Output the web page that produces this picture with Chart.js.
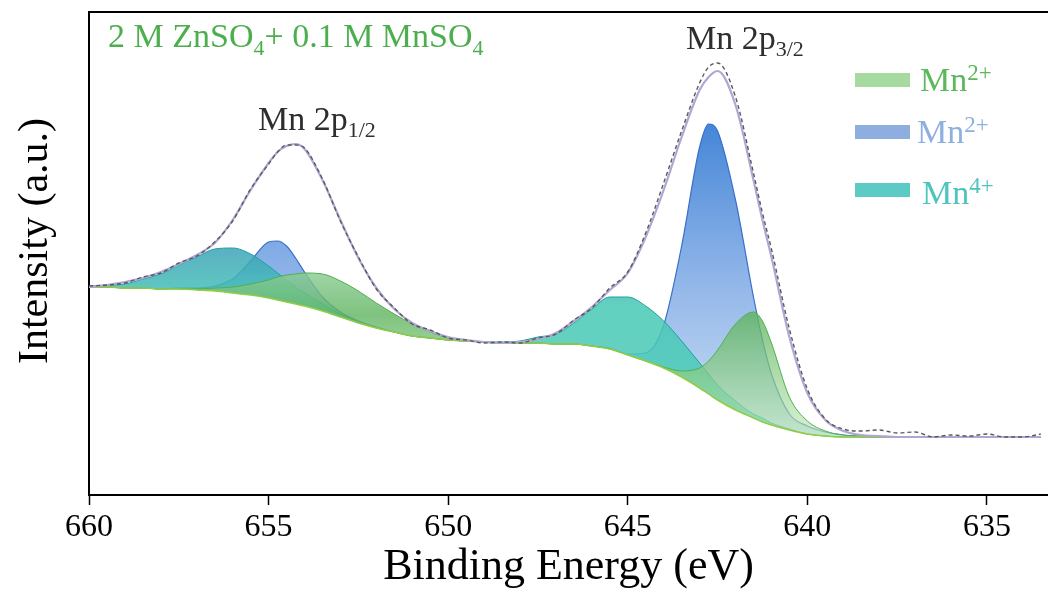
<!DOCTYPE html>
<html>
<head>
<meta charset="utf-8">
<script src="https://cdn.jsdelivr.net/npm/chart.js@4.4.1/dist/chart.umd.min.js"></script>
<style>
  body { margin: 0; background: #fff; }
  #wrap { width: 1048px; height: 589px; }
</style>
</head>
<body>
<div id="wrap"><canvas id="xpsChart"></canvas></div>
<script>
const SERIF = '"Liberation Serif", "Times New Roman", serif';

// binding energy grid (eV)
const energy = [660, 659.5, 659, 658.5, 658, 657.5, 657, 656.5, 656, 655.5, 655, 654.75, 654.5, 654.25, 654,
  653.5, 653, 652.5, 652, 651.5, 651, 650.5, 650, 649.5, 649, 648.5, 648, 647.5, 647, 646.5, 646, 645.5,
  645, 644.5, 644, 643.5, 643, 642.75, 642.5, 642, 641.5, 641.25, 641, 640.5, 640, 639.5, 639, 638.5,
  638, 637.5, 637, 636.5, 636, 635.5, 635, 634.5, 634, 633.5];

// shirley background
const background = [208, 208, 207, 207, 206, 206, 205, 204, 202, 200, 197, 195, 193, 191, 189,
  184, 178, 172, 167, 163, 159, 157, 155, 154, 153, 152, 152, 152, 151, 151, 149, 146,
  140, 134, 127, 118, 107, 101, 95, 85, 77, 73, 70, 65, 61, 59, 58, 58,
  58, 58, 58, 58, 58, 58, 58, 58, 58, 58];

// fitted components (top edge)
const mn2Blue = [208, 208, 207, 207, 206, 207, 207, 209, 216, 234, 253, 254, 249, 237, 223,
  198, 183, 174, 168, 163, 159, 157, 155, 154, 153, 152, 152, 152, 151, 151, 149, 147,
  141, 142, 170, 249, 348, 371, 364, 295, 198, 155, 121, 81, 69, 63, 60, 59,
  58, 58, 58, 58, 58, 58, 58, 58, 58, 58];

const mn4Teal = [209, 210, 211, 216, 221, 230, 238, 246, 247, 241, 229, 222, 215, 208, 202,
  191, 181, 173, 167, 163, 159, 157, 155, 154, 153, 153, 154, 158, 161, 172, 186, 198,
  198, 189, 174, 154, 132, 121, 110, 94, 81, 77, 72, 66, 61, 59, 58, 58,
  58, 58, 58, 58, 58, 58, 58, 58, 58, 58];

const mn2Green = [208, 208, 207, 207, 206, 206, 206, 207, 208, 211, 215, 218, 220, 221, 222,
  221, 214, 204, 192, 181, 171, 163, 157, 155, 153, 152, 152, 152, 151, 151, 149, 146,
  140, 134, 128, 124, 127, 134, 145, 171, 183, 174, 152, 98, 74, 64, 60, 59,
  58, 58, 58, 58, 58, 58, 58, 58, 58, 58];

const envelope = [208, 210, 213, 217, 223, 231, 240, 252, 275, 305, 332, 343, 349, 351, 346,
  315, 275, 237, 207, 186, 172, 164, 158, 155, 153, 152, 153, 156, 162, 174, 188, 205,
  222, 258, 305, 358, 405, 418, 424, 390, 315, 275, 238, 158, 102, 75, 64, 60,
  59, 58, 58, 58, 58, 58, 58, 58, 58, 58];

const rawData = [209, 210, 212, 218, 222, 232, 239, 253, 274, 306, 331, 343, 350, 350, 347,
  316, 274, 238, 206, 187, 171, 165, 157, 155, 152, 153, 152, 157, 161, 175, 187, 207,
  223, 262, 312, 364, 412, 428, 432, 398, 322, 282, 246, 166, 106, 76, 66, 64,
  65, 62, 63, 58, 60, 59, 61, 58, 58, 61];

const xTicks = [660, 655, 650, 645, 640, 635];

function pts(arr) {
  return energy.map((e, i) => ({ x: e, y: arr[i] }));
}

// vertical gradient, stops given as [value, colour]
function vGrad(context, stops, fallback) {
  const chart = context.chart;
  if (!chart.chartArea) return fallback;
  const ys = chart.scales.y;
  const y0 = ys.getPixelForValue(stops[0][0]);
  const y1 = ys.getPixelForValue(stops[stops.length - 1][0]);
  const g = chart.ctx.createLinearGradient(0, y0, 0, y1);
  stops.forEach(s => {
    g.addColorStop((ys.getPixelForValue(s[0]) - y0) / (y1 - y0), s[1]);
  });
  return g;
}

function drawRuns(ctx, x, y, runs, color) {
  ctx.fillStyle = color;
  ctx.textBaseline = 'alphabetic';
  ctx.textAlign = 'left';
  runs.forEach(r => {
    ctx.font = r[1] + 'px ' + SERIF;
    ctx.fillText(r[0], x, y + r[2]);
    x += ctx.measureText(r[0]).width;
  });
}

const textPlugin = {
  id: 'xpsText',
  afterDraw(chart) {
    const ctx = chart.ctx;
    const a = chart.chartArea;
    ctx.save();
    // top frame
    ctx.strokeStyle = '#000';
    ctx.lineWidth = 2;
    ctx.beginPath();
    ctx.moveTo(a.left, a.top);
    ctx.lineTo(a.right, a.top);
    ctx.stroke();

    drawRuns(ctx, 108, 47, [['2 M ZnSO', 34, 0], ['4', 22, 8], ['+ 0.1 M MnSO', 34, 0], ['4', 22, 8]], '#4cae4c');
    drawRuns(ctx, 258, 130, [['Mn 2p', 34, 0], ['1/2', 22, 7]], '#2e2e2e');
    drawRuns(ctx, 686, 49, [['Mn 2p', 34, 0], ['3/2', 22, 7]], '#2e2e2e');

    // legend
    const items = [
      { y: 73, tx: 920, ty: 91, sup: '2+', box: '#a5dba0', col: '#5cb85c' },
      { y: 125, tx: 917, ty: 143, sup: '2+', box: '#8eaedf', col: '#8fb0df' },
      { y: 183, tx: 922, ty: 204, sup: '4+', box: '#5ccbc6', col: '#4fc4bd' }
    ];
    items.forEach(it => {
      ctx.fillStyle = it.box;
      ctx.fillRect(855, it.y, 55, 14);
      drawRuns(ctx, it.tx, it.ty, [['Mn', 34, 0], [it.sup, 23, -11]], it.col);
    });

    // y title
    ctx.translate(47, 241);
    ctx.rotate(-Math.PI / 2);
    ctx.font = '42px ' + SERIF;
    ctx.fillStyle = '#000';
    ctx.textAlign = 'center';
    ctx.textBaseline = 'alphabetic';
    ctx.fillText('Intensity (a.u.)', 0, 0);
    ctx.restore();
  }
};

const chart = new Chart(document.getElementById('xpsChart'), {
  type: 'line',
  data: {
    datasets: [
      {
        label: 'Raw',
        data: pts(rawData),
        borderColor: '#5a5a5a',
        borderWidth: 1.4,
        borderDash: [4, 3],
        pointRadius: 0,
        fill: false
      },
      {
        label: 'Envelope',
        data: pts(envelope),
        borderColor: '#b2a5d6',
        borderWidth: 2.2,
        pointRadius: 0,
        fill: false
      },
      {
        label: 'Background',
        data: pts(background),
        borderColor: '#92cc45',
        borderWidth: 1.5,
        pointRadius: 0,
        fill: false
      },
      {
        label: 'Mn2+ (green)',
        data: pts(mn2Green),
        borderColor: '#4fae4f',
        borderWidth: 1,
        pointRadius: 0,
        fill: 2,
        backgroundColor: c => vGrad(c, [[225, 'rgba(140,205,150,0.82)'], [180, 'rgba(95,180,95,0.8)'], [58, 'rgba(190,232,180,0.6)']], 'rgba(140,205,150,0.8)')
      },
      {
        label: 'Mn4+',
        data: pts(mn4Teal),
        borderColor: '#1f9ea0',
        borderWidth: 1,
        pointRadius: 0,
        fill: 2,
        backgroundColor: c => vGrad(c, [[250, 'rgba(60,160,185,0.85)'], [190, 'rgba(70,200,180,0.85)'], [58, 'rgba(80,205,185,0.85)']], 'rgba(70,200,180,0.85)')
      },
      {
        label: 'Mn2+ (blue)',
        data: pts(mn2Blue),
        borderColor: '#3a70c8',
        borderWidth: 1.2,
        pointRadius: 0,
        fill: 2,
        backgroundColor: c => vGrad(c, [[372, 'rgba(58,127,213,0.95)'], [200, 'rgba(140,178,232,0.9)'], [58, 'rgba(198,222,244,0.9)']], 'rgba(140,178,232,0.9)')
      }
    ]
  },
  options: {
    responsive: true,
    maintainAspectRatio: false,
    animation: false,
    cubicInterpolationMode: 'monotone',
    layout: { padding: { top: 12, left: 89, right: 0, bottom: 0 } },
    plugins: {
      legend: { display: false },
      tooltip: { enabled: false }
    },
    scales: {
      x: {
        type: 'linear',
        reverse: true,
        min: 633.3,
        max: 660,
        afterBuildTicks: s => { s.ticks = xTicks.map(v => ({ value: v })); },
        afterFit: s => { s.height = 94; },
        ticks: {
          color: '#000',
          font: { family: SERIF, size: 32 },
          padding: 3,
          maxRotation: 0
        },
        grid: {
          drawOnChartArea: false,
          drawTicks: true,
          tickLength: 10,
          tickColor: '#000',
          tickWidth: 1.5
        },
        border: { color: '#000', width: 2 },
        title: {
          display: true,
          text: 'Binding Energy (eV)',
          color: '#000',
          font: { family: SERIF, size: 44, lineHeight: 1 },
          padding: { top: 0, bottom: 0 }
        }
      },
      y: {
        min: 0,
        max: 483,
        afterFit: s => { s.width = 0; },
        ticks: { display: false },
        grid: { drawOnChartArea: false, drawTicks: false },
        border: { color: '#000', width: 2 }
      }
    }
  },
  plugins: [textPlugin]
});
</script>
</body>
</html>
